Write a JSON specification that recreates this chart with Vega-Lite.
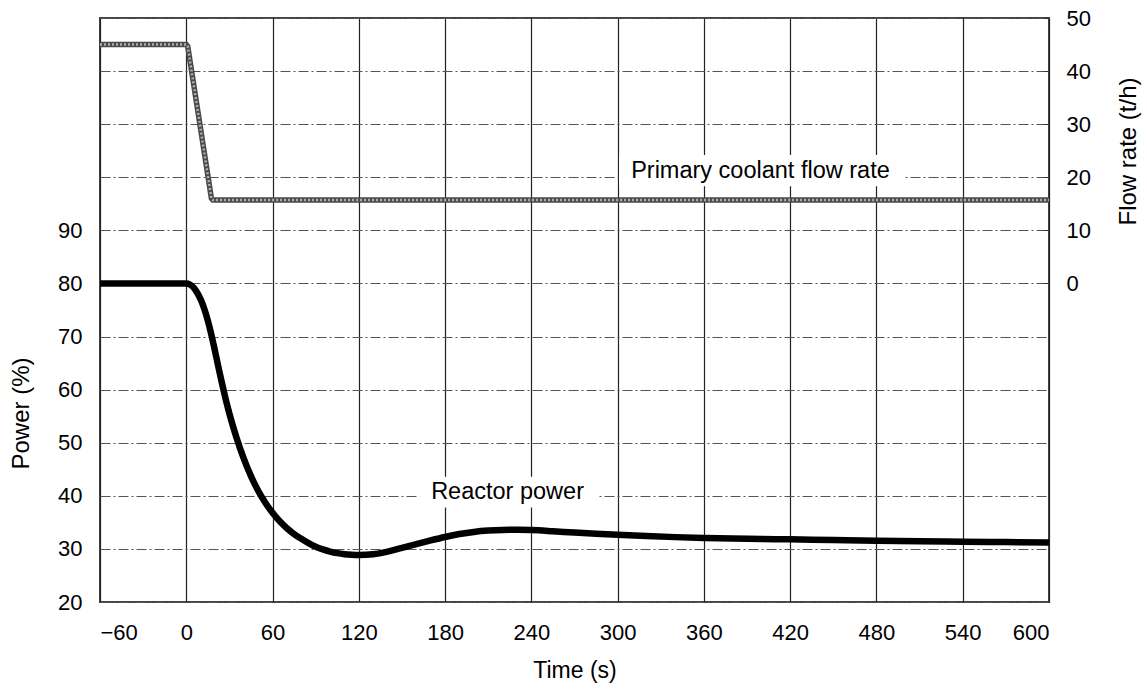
{
  "$schema": "https://vega.github.io/schema/vega-lite/v6.json",
  "width": 949,
  "height": 584,
  "autosize": {"type": "none"},
  "padding": {"left": 100, "top": 18, "right": 98, "bottom": 87},
  "background": "white",
  "config": {
    "font": "Liberation Sans, Arial, sans-serif",
    "view": {"stroke": "#444", "strokeWidth": 2},
    "axis": {
      "labelFontSize": 22,
      "titleFontSize": 24,
      "labelColor": "#000",
      "titleColor": "#000",
      "titleFontWeight": "normal",
      "domain": false
    }
  },
  "datasets": {
    "power": [
      {"t": -60, "p": 80}, {"t": -30, "p": 80}, {"t": 0, "p": 80}, {"t": 2.5, "p": 79.8},
      {"t": 5, "p": 79.25}, {"t": 7.5, "p": 78.3}, {"t": 10, "p": 77.0}, {"t": 12.5, "p": 75.25},
      {"t": 15, "p": 73.0}, {"t": 17.5, "p": 70.3}, {"t": 20, "p": 67.25}, {"t": 22.5, "p": 64.05},
      {"t": 25, "p": 61.0}, {"t": 27.5, "p": 58.1}, {"t": 30, "p": 55.5}, {"t": 32.5, "p": 53.1},
      {"t": 35, "p": 50.9}, {"t": 40, "p": 47.0}, {"t": 45, "p": 43.7}, {"t": 50, "p": 40.95},
      {"t": 55, "p": 38.7}, {"t": 60, "p": 36.8}, {"t": 65, "p": 35.2}, {"t": 70, "p": 33.9},
      {"t": 75, "p": 32.8}, {"t": 80, "p": 31.9}, {"t": 85, "p": 31.1}, {"t": 90, "p": 30.4},
      {"t": 95, "p": 29.9}, {"t": 100, "p": 29.5}, {"t": 105, "p": 29.2}, {"t": 110, "p": 29.0},
      {"t": 115, "p": 28.9}, {"t": 120, "p": 28.85}, {"t": 130, "p": 29.0}, {"t": 140, "p": 29.5},
      {"t": 150, "p": 30.2}, {"t": 160, "p": 30.9}, {"t": 170, "p": 31.6}, {"t": 180, "p": 32.25},
      {"t": 190, "p": 32.8}, {"t": 200, "p": 33.2}, {"t": 210, "p": 33.45}, {"t": 220, "p": 33.57},
      {"t": 230, "p": 33.6}, {"t": 240, "p": 33.55}, {"t": 255, "p": 33.33}, {"t": 270, "p": 33.07},
      {"t": 285, "p": 32.85}, {"t": 300, "p": 32.65}, {"t": 320, "p": 32.42}, {"t": 340, "p": 32.22},
      {"t": 360, "p": 32.07}, {"t": 380, "p": 31.96}, {"t": 400, "p": 31.88}, {"t": 420, "p": 31.8},
      {"t": 450, "p": 31.68}, {"t": 480, "p": 31.56}, {"t": 510, "p": 31.46}, {"t": 540, "p": 31.36},
      {"t": 570, "p": 31.28}, {"t": 600, "p": 31.2}
    ],
    "flow": [
      {"t": -60, "f": 45}, {"t": 0, "f": 45}, {"t": 1, "f": 44.7}, {"t": 17.5, "f": 16.0},
      {"t": 18.5, "f": 15.7}, {"t": 600, "f": 15.7}
    ],
    "powerLabel": [{"t": 170.3, "p": 40.8, "t2": 162, "p2": 43.6, "t3": 287, "p3": 37.8, "label": "Reactor power"}],
    "flowLabel": [{"t": 309.4, "f": 21.1, "t2": 301, "f2": 24.2, "t3": 499, "f3": 18.3, "label": "Primary coolant flow rate"}]
  },
  "encoding": {
    "x": {
      "field": "t",
      "type": "quantitative",
      "scale": {"domain": [-60, 600], "nice": false, "zero": false},
      "axis": {
        "values": [-60, 0, 60, 120, 180, 240, 300, 360, 420, 480, 540, 600],
        "grid": true,
        "gridColor": "#222",
        "gridWidth": 1.2,
        "ticks": false,
        "labelPadding": 20,
        "title": "Time (s)",
        "titleFontSize": 23,
        "titlePadding": 16
      }
    }
  },
  "layer": [
    {
      "encoding": {
        "y": {
          "field": "p",
          "type": "quantitative",
          "scale": {"domain": [20, 130], "nice": false, "zero": false},
          "axis": {
            "values": [20, 30, 40, 50, 60, 70, 80, 90, 100, 110, 120, 130],
            "labelExpr": "datum.value <= 90 ? datum.label : ''",
            "grid": true,
            "gridColor": "#555",
            "gridDash": [10, 3, 2, 3],
            "gridWidth": 1,
            "ticks": false,
            "labelPadding": 18,
            "title": "Power (%)",
            "titleAngle": -90,
            "titleX": -79,
            "titleY": 395,
            "titleAlign": "center",
            "titleBaseline": "middle"
          }
        }
      },
      "layer": [
        {
          "data": {"name": "powerLabel"},
          "mark": {"type": "rect", "color": "white"},
          "encoding": {
            "x": {"field": "t2", "type": "quantitative"},
            "x2": {"field": "t3"},
            "y": {"field": "p2", "type": "quantitative"},
            "y2": {"field": "p3"}
          }
        },
        {
          "data": {"name": "power"},
          "mark": {"type": "line", "color": "#000", "strokeWidth": 6.5, "interpolate": "monotone"}
        },
        {
          "data": {"name": "powerLabel"},
          "mark": {"type": "text", "align": "left", "baseline": "middle", "fontSize": 23.5, "color": "#000"},
          "encoding": {"text": {"field": "label"}}
        }
      ]
    },
    {
      "encoding": {
        "y": {
          "field": "f",
          "type": "quantitative",
          "scale": {"domain": [-60, 50], "nice": false, "zero": false},
          "axis": {
            "orient": "right",
            "values": [0, 10, 20, 30, 40, 50],
            "grid": false,
            "tickSize": -6,
            "tickColor": "#333",
            "labelPadding": 23,
            "title": "Flow rate (t/h)",
            "titleAngle": -90,
            "titleX": 79,
            "titleY": 133,
            "titleAlign": "center",
            "titleBaseline": "middle"
          }
        }
      },
      "layer": [
        {
          "data": {"name": "flowLabel"},
          "mark": {"type": "rect", "color": "white"},
          "encoding": {
            "x": {"field": "t2", "type": "quantitative"},
            "x2": {"field": "t3"},
            "y": {"field": "f2", "type": "quantitative"},
            "y2": {"field": "f3"}
          }
        },
        {
          "data": {"name": "flow"},
          "mark": {"type": "line", "color": "#4a4a4a", "strokeWidth": 5.5}
        },
        {
          "data": {"name": "flow"},
          "mark": {"type": "line", "color": "#b0b0b0", "strokeWidth": 2.5, "strokeDash": [2, 2]}
        },
        {
          "data": {"name": "flowLabel"},
          "mark": {"type": "text", "align": "left", "baseline": "middle", "fontSize": 23.5, "color": "#000"},
          "encoding": {"text": {"field": "label"}}
        }
      ]
    }
  ],
  "resolve": {"scale": {"y": "independent"}}
}
